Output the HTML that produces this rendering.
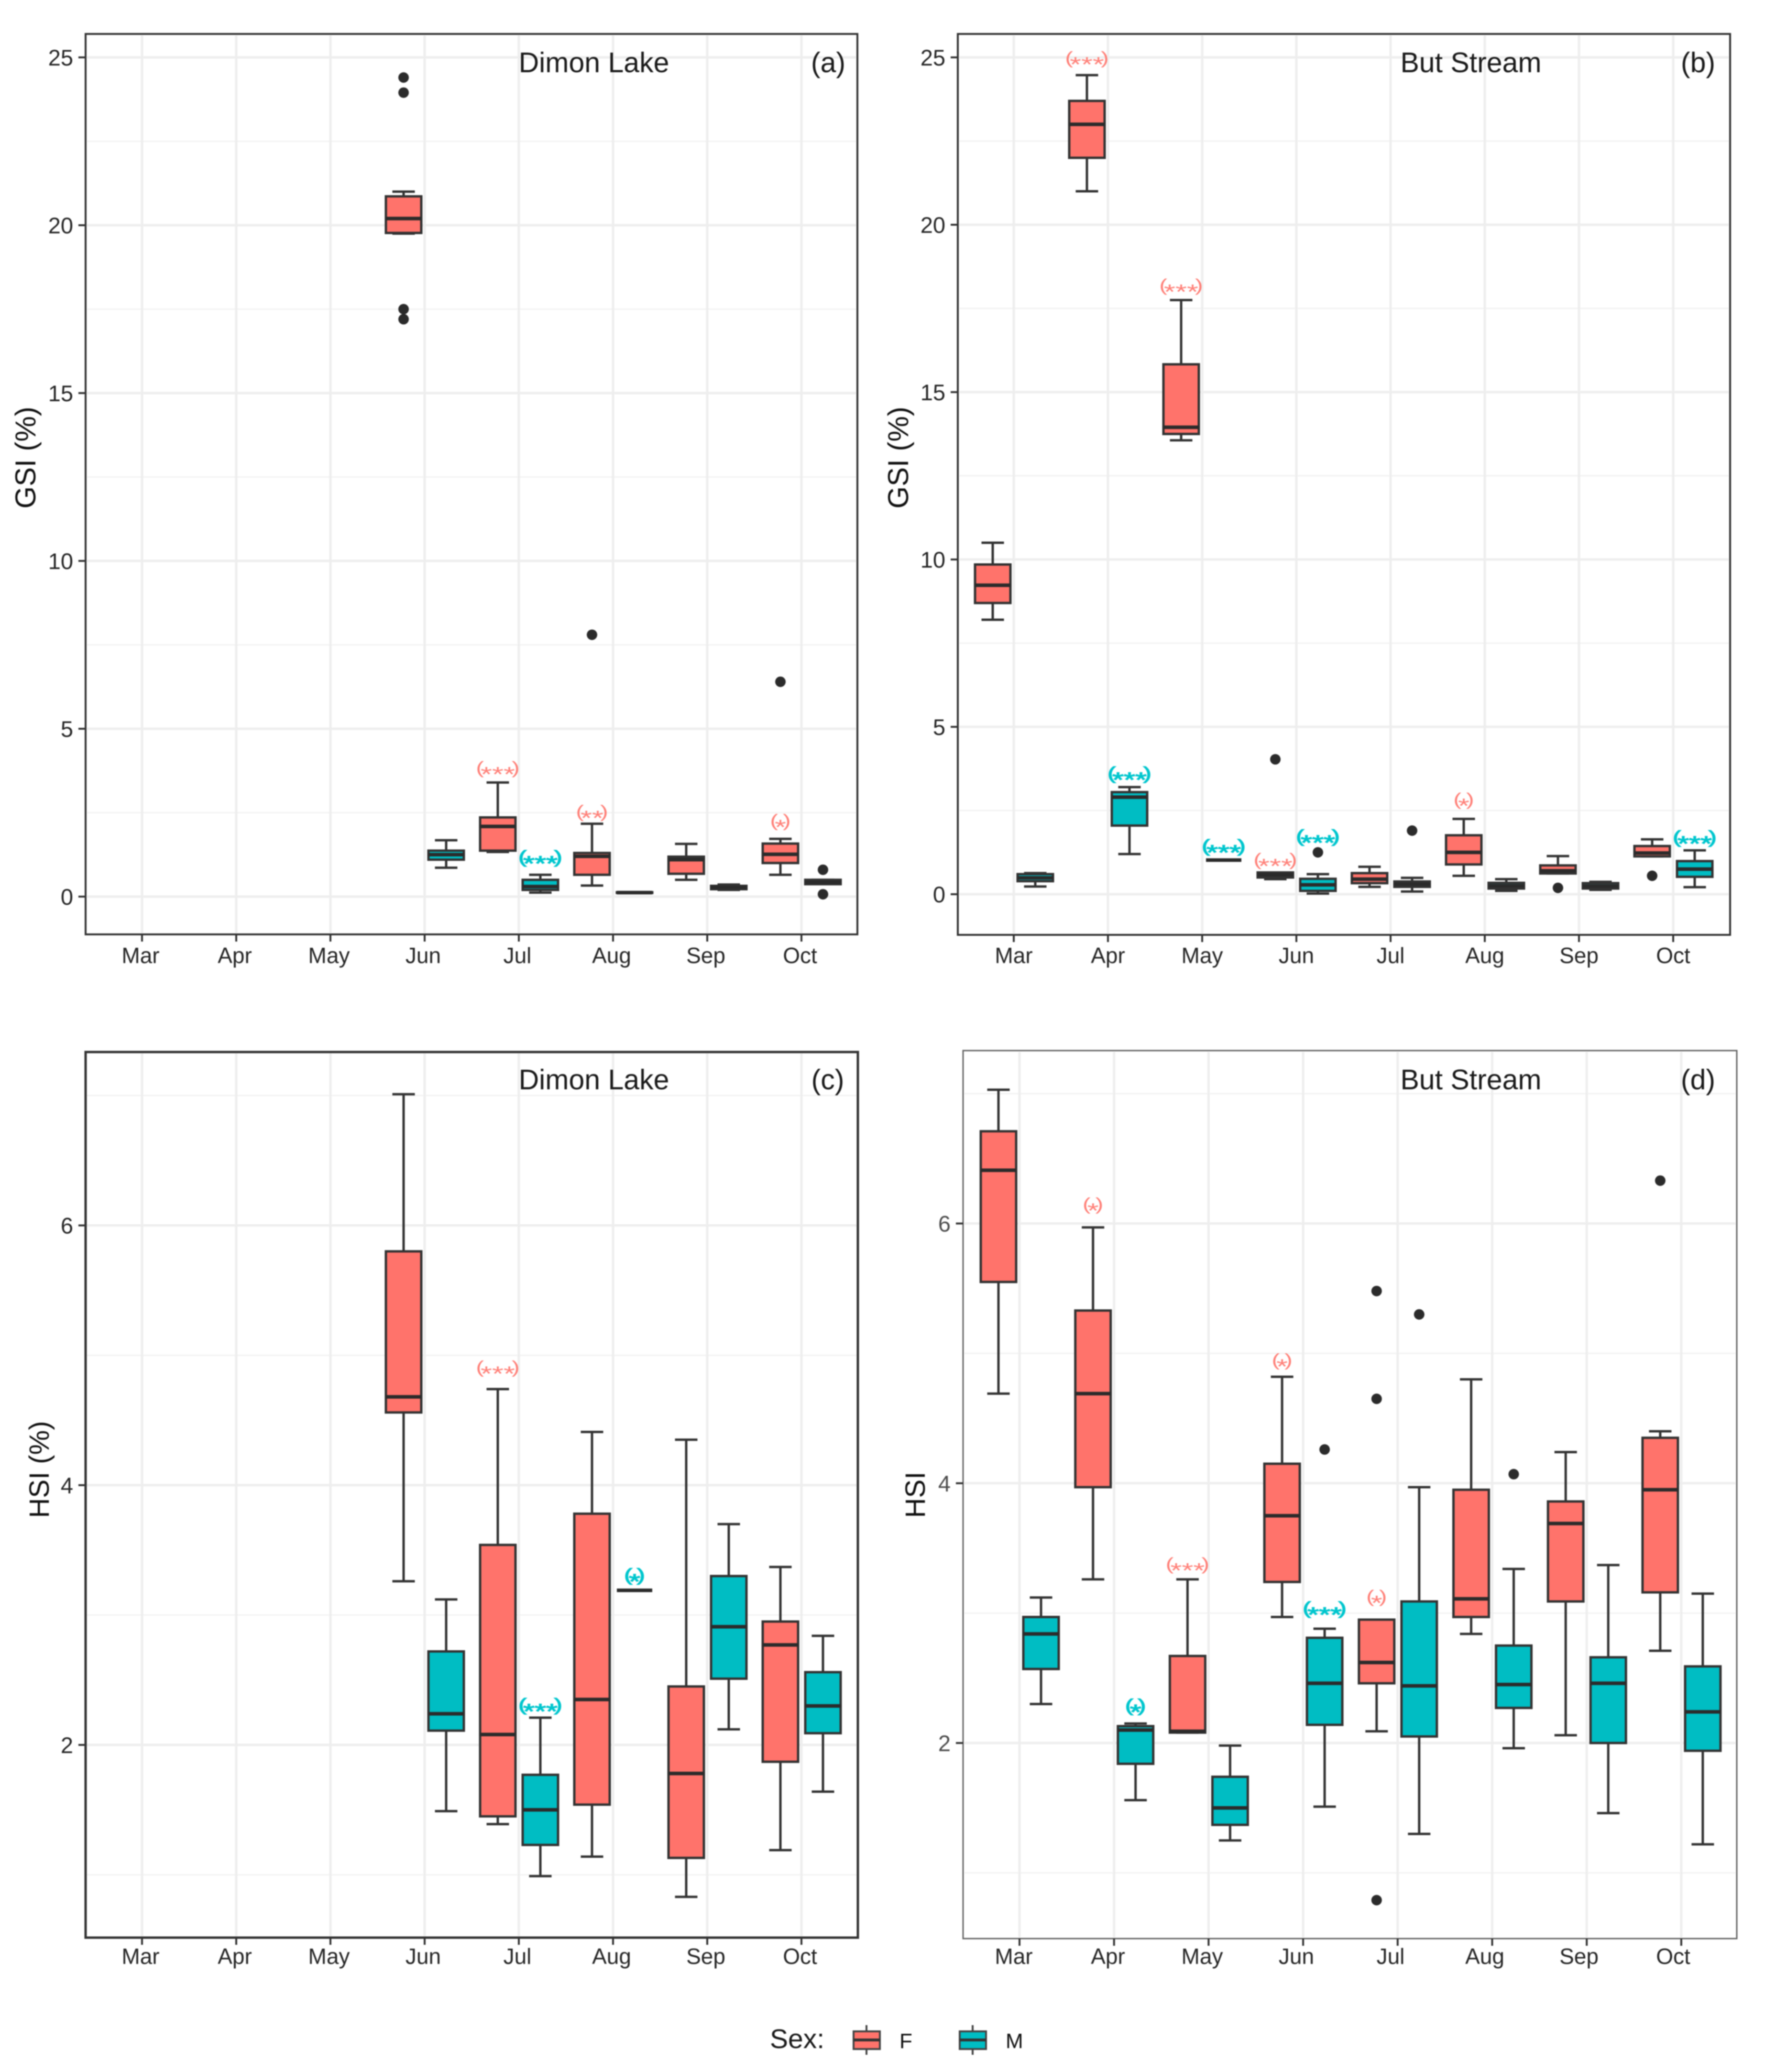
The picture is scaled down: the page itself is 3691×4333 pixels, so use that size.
<!DOCTYPE html>
<html lang="en">
<head>
<meta charset="utf-8">
<title>GSI and HSI by month and sex</title>
<style>
html,body{margin:0;padding:0;background:#fff}
svg{display:block;font-family:"Liberation Sans",Arial,sans-serif;filter:blur(1.2px)}
</style>
</head>
<body>
<svg id="figure" xmlns="http://www.w3.org/2000/svg" width="3691" height="4333" viewBox="0 0 3691 4333">
  <rect x="0" y="0" width="3691" height="4333" fill="#ffffff"/>
  <g id="panel-a"></g>
  <g id="panel-b"></g>
  <g id="panel-c"></g>
  <g id="panel-d"></g>

  <text x="1242" y="151" font-size="59" text-anchor="middle" fill="#1a1a1a">Dimon Lake</text>
  <text x="1732" y="151" font-size="59" text-anchor="middle" fill="#1a1a1a">(a)</text>
  <text x="3076" y="151" font-size="59" text-anchor="middle" fill="#1a1a1a">But Stream</text>
  <text x="3551" y="151" font-size="59" text-anchor="middle" fill="#1a1a1a">(b)</text>
  <text x="1242" y="2278" font-size="59" text-anchor="middle" fill="#1a1a1a">Dimon Lake</text>
  <text x="1731" y="2278" font-size="59" text-anchor="middle" fill="#1a1a1a">(c)</text>
  <text x="3076" y="2278" font-size="59" text-anchor="middle" fill="#1a1a1a">But Stream</text>
  <text x="3551" y="2278" font-size="59" text-anchor="middle" fill="#1a1a1a">(d)</text>

  <text transform="translate(74,957) rotate(-90)" font-size="60" text-anchor="middle" fill="#111111">GSI (%)</text>
  <text transform="translate(1899,957) rotate(-90)" font-size="60" text-anchor="middle" fill="#111111">GSI (%)</text>
  <text transform="translate(102,3073) rotate(-90)" font-size="58" text-anchor="middle" fill="#111111">HSI (%)</text>
  <text transform="translate(1934,3126) rotate(-90)" font-size="58" text-anchor="middle" fill="#111111">HSI</text>

  <g>
    <text x="1610" y="4283" font-size="57" fill="#1a1a1a">Sex:</text>
    <g>
      <line x1="1812" x2="1812" y1="4235" y2="4297" stroke="#444" stroke-width="4"/>
      <rect x="1785" y="4248" width="55" height="37" fill="#FF736B" stroke="#444" stroke-width="4"/>
      <line x1="1785" x2="1840" y1="4266" y2="4266" stroke="#333" stroke-width="6"/>
      <text x="1881" y="4283" font-size="44" fill="#111111">F</text>
    </g>
    <g>
      <line x1="2034" x2="2034" y1="4235" y2="4297" stroke="#444" stroke-width="4"/>
      <rect x="2007" y="4248" width="55" height="37" fill="#00BDC3" stroke="#444" stroke-width="4"/>
      <line x1="2007" x2="2062" y1="4266" y2="4266" stroke="#333" stroke-width="6"/>
      <text x="2103" y="4283" font-size="44" fill="#111111">M</text>
    </g>
  </g>
</svg>

<script>
// Shared axis data
const months = ["Mar","Apr","May","Jun","Jul","Aug","Sep","Oct"];
const sexes = ["F","M"];
const gsiMajorTicks = [0,5,10,15,20,25];
const gsiMinorTicks = [2.5,7.5,12.5,17.5,22.5];
const hsiMajorTicks = [2,4,6];
const hsiMinorTicks = [1,3,5,7];

// Every series has 16 slots: Mar F, Mar M, Apr F, Apr M ... Oct F, Oct M
// Panel (a) GSI, Dimon Lake
const aHigh   = [null,null,null,null,null,null,21.0,1.68,3.4,0.65,2.17,0.13,1.57,0.36,1.72,0.5];
const aQ3     = [null,null,null,null,null,null,20.86,1.37,2.36,0.5,1.3,0.13,1.19,0.32,1.58,0.5];
const aMedian = [null,null,null,null,null,null,20.2,1.25,2.09,0.3,1.2,0.12,1.1,0.28,1.26,0.43];
const aQ1     = [null,null,null,null,null,null,19.77,1.1,1.37,0.2,0.65,0.11,0.68,0.22,1.0,0.37];
const aLow    = [null,null,null,null,null,null,19.75,0.86,1.33,0.12,0.33,0.11,0.5,0.2,0.65,0.37];
const aOutlierGroups = [6,6,6,6,10,14,15,15];
const aOutlierValues = [24.4,23.95,17.5,17.2,7.8,6.4,0.8,0.07];
const aSigGroups = [8,9,10,14];
const aSigStars = ["***","***","**","*"];
const aSigValues = [3.8,1.15,2.5,2.23];

// Panel (b) GSI, But Stream
const bHigh   = [10.5,0.63,24.47,3.2,17.75,1.02,0.65,0.6,0.82,0.49,2.25,0.45,1.14,0.37,1.64,1.31];
const bQ3     = [9.85,0.6,23.7,3.05,15.83,1.02,0.65,0.46,0.63,0.38,1.76,0.34,0.86,0.33,1.44,0.99];
const bMedian = [9.23,0.49,23.0,2.9,13.95,1.02,0.58,0.28,0.45,0.3,1.25,0.25,0.7,0.24,1.23,0.75];
const bQ1     = [8.7,0.39,22.0,2.05,13.75,1.02,0.5,0.1,0.33,0.22,0.89,0.17,0.62,0.17,1.13,0.52];
const bLow    = [8.2,0.23,21.0,1.2,13.56,1.02,0.45,0.02,0.22,0.08,0.55,0.1,0.62,0.13,1.13,0.21];
const bOutlierGroups = [6,7,9,12,14];
const bOutlierValues = [4.03,1.25,1.9,0.19,0.55];
const bSigGroups = [2,3,4,5,6,7,10,15];
const bSigStars = ["***","***","***","***","***","***","*","***"];
const bSigValues = [24.95,3.58,18.16,1.41,1.0,1.7,2.8,1.67];

// Panel (c) HSI, Dimon Lake
const cHigh   = [null,null,null,null,null,null,7.01,3.12,4.74,2.21,4.41,3.19,4.35,3.7,3.37,2.84];
const cQ3     = [null,null,null,null,null,null,5.8,2.72,3.54,1.77,3.78,3.19,2.45,3.3,2.95,2.56];
const cMedian = [null,null,null,null,null,null,4.68,2.24,2.08,1.5,2.35,3.19,1.78,2.91,2.77,2.3];
const cQ1     = [null,null,null,null,null,null,4.56,2.11,1.45,1.23,1.54,3.19,1.13,2.51,1.87,2.09];
const cLow    = [null,null,null,null,null,null,3.26,1.49,1.39,0.99,1.14,3.19,0.83,2.12,1.19,1.64];
const cOutlierGroups = [];
const cOutlierValues = [];
const cSigGroups = [8,9,11];
const cSigStars = ["***","***","*"];
const cSigValues = [4.9,2.3,3.3];

// Panel (d) HSI, But Stream
const dHigh   = [7.03,3.12,5.97,2.15,3.26,1.98,4.82,2.88,2.95,3.97,4.8,3.34,4.24,3.37,4.4,3.15];
const dQ3     = [6.71,2.97,5.33,2.13,2.67,1.74,4.15,2.81,2.95,3.09,3.95,2.75,3.86,2.66,4.35,2.59];
const dMedian = [6.41,2.84,4.69,2.1,2.09,1.5,3.75,2.46,2.62,2.44,3.11,2.45,3.69,2.46,3.95,2.24];
const dQ1     = [5.55,2.57,3.97,1.84,2.08,1.37,3.24,2.14,2.46,2.05,2.97,2.27,3.09,2.0,3.16,1.94];
const dLow    = [4.69,2.3,3.26,1.56,2.08,1.25,2.97,1.51,2.09,1.3,2.84,1.96,2.06,1.46,2.71,1.22];
const dOutlierGroups = [7,8,8,8,9,11,14];
const dOutlierValues = [4.26,5.48,4.65,0.79,5.3,4.07,6.33];
const dSigGroups = [2,3,4,6,7,8];
const dSigStars = ["*","*","***","*","***","*"];
const dSigValues = [6.14,2.28,3.37,4.94,3.03,3.12];

const SVG_NS = "http://www.w3.org/2000/svg";
const FILLS = {F:"#FF736B", M:"#00BDC3"};
const SIG_COLORS = {F:"#FF8078", M:"#00C6CE"};
const INK = "#333333";

function make(parent, tag, attrs, text) {
  const el = document.createElementNS(SVG_NS, tag);
  for (const k in attrs) el.setAttribute(k, attrs[k]);
  if (text !== undefined) el.textContent = text;
  parent.appendChild(el);
  return el;
}

function drawPanel(cfg) {
  const root = document.getElementById(cfg.id);
  const xTick = i => cfg.xStart + cfg.xStep * i;
  const xLabel = i => cfg.labelStart + 197 * i;
  const yScale = v => cfg.yZero - cfg.yUnit * v;
  const groupX = g => xTick(Math.floor(g / 2)) + (g % 2 ? 45 : -44);
  let el;

  cfg.minorTicks.forEach(v => {
    el = make(root, "line", {x1:cfg.left+3, x2:cfg.right-3, y1:yScale(v), y2:yScale(v), stroke:"#f3f3f3", "stroke-width":3});
    
    
  });
  cfg.majorTicks.forEach(v => {
    el = make(root, "line", {x1:cfg.left+3, x2:cfg.right-3, y1:yScale(v), y2:yScale(v), stroke:"#eeeeee", "stroke-width":5});
    
    
  });
  months.forEach((m, i) => {
    el = make(root, "line", {x1:xTick(i), x2:xTick(i), y1:cfg.top+3, y2:cfg.bottom-3, stroke:"#eeeeee", "stroke-width":5});
    
    
  });

  cfg.high.forEach((hi, g) => {
    if (hi === null) return;
    const sex = sexes[g % 2];
    const cx = groupX(g);
    const box = make(root, "g", {});
    
    
    const top = yScale(cfg.q3[g]), bot = yScale(cfg.q1[g]);

    el = make(box, "line", {x1:cx, x2:cx, y1:yScale(hi), y2:top, stroke:INK, "stroke-width":5});
    
    
    el = make(box, "line", {x1:cx, x2:cx, y1:bot, y2:yScale(cfg.low[g]), stroke:INK, "stroke-width":5});
    
    
    el = make(box, "line", {x1:cx-23.5, x2:cx+23.5, y1:yScale(hi), y2:yScale(hi), stroke:INK, "stroke-width":5});
    
    
    el = make(box, "line", {x1:cx-23.5, x2:cx+23.5, y1:yScale(cfg.low[g]), y2:yScale(cfg.low[g]), stroke:INK, "stroke-width":5});
    
    
    el = make(box, "path", {d:"M"+(cx-37)+" "+top+"H"+(cx+37)+"V"+bot+"H"+(cx-37)+"Z", fill:FILLS[sex], stroke:INK, "stroke-width":5});
    
    
    el = make(box, "line", {x1:cx-37, x2:cx+37, y1:yScale(cfg.median[g]), y2:yScale(cfg.median[g]), stroke:"#2b2b2b", "stroke-width":7.5});
    
    
  });

  cfg.outlierGroups.forEach((g, i) => {
    el = make(root, "circle", {cx:groupX(g), cy:yScale(cfg.outlierValues[i]), r:11, fill:"#2b2b2b"});
    
    
  });

  cfg.sigGroups.forEach((g, i) => {
    const sex = sexes[g % 2];
    const attrs = {
      transform:"translate("+groupX(g)+","+(yScale(cfg.sigValues[i])+10)+") scale(1.4,1)",
      "font-size":36, "text-anchor":"middle", fill:SIG_COLORS[sex]
    };
    if (sex === "M") { attrs.stroke = SIG_COLORS[sex]; attrs["stroke-width"] = 1.4; }
    el = make(root, "text", attrs);
    
    
    make(el, "tspan", {}, "(");
    make(el, "tspan", {"font-size":44, dx:-5, dy:16}, cfg.sigStars[i]);
    make(el, "tspan", {dx:-5, dy:-16}, ")");
  });

  el = make(root, "rect", {x:cfg.left, y:cfg.top, width:cfg.right-cfg.left, height:cfg.bottom-cfg.top, fill:"none", stroke:cfg.frameColor, "stroke-width":cfg.frameWidth});
  
  

  months.forEach((m, i) => {
    el = make(root, "line", {x1:xTick(i), x2:xTick(i), y1:cfg.bottom, y2:cfg.bottom+15, stroke:INK, "stroke-width":4});
    
    
    el = make(root, "text", {x:xLabel(i), y:cfg.labelY, "font-size":46, "text-anchor":"middle", fill:"#262626"}, m);
    
    
  });
  cfg.majorTicks.forEach(v => {
    el = make(root, "line", {x1:cfg.left-15, x2:cfg.left, y1:yScale(v), y2:yScale(v), stroke:INK, "stroke-width":4});
    
    
    el = make(root, "text", {x:cfg.left-26, y:yScale(v)+17, "font-size":47, "text-anchor":"end", fill:cfg.yLabelColor}, String(v));
    
    
  });
}

drawPanel({id:"panel-a", left:179, right:1793, top:71, bottom:1954, xStart:297, xStep:197, yZero:1875, yUnit:70.2,
  labelStart:294, labelY:2014, frameColor:"#333333", frameWidth:4, yLabelColor:"#262626",
  majorTicks:gsiMajorTicks, minorTicks:gsiMinorTicks,
  high:aHigh, q3:aQ3, median:aMedian, q1:aQ1, low:aLow,
  outlierGroups:aOutlierGroups, outlierValues:aOutlierValues,
  sigGroups:aSigGroups, sigStars:aSigStars, sigValues:aSigValues});

drawPanel({id:"panel-b", left:2003, right:3618, top:71, bottom:1955, xStart:2120, xStep:197, yZero:1870, yUnit:70,
  labelStart:2120, labelY:2014, frameColor:"#333333", frameWidth:4, yLabelColor:"#262626",
  majorTicks:gsiMajorTicks, minorTicks:gsiMinorTicks,
  high:bHigh, q3:bQ3, median:bMedian, q1:bQ1, low:bLow,
  outlierGroups:bOutlierGroups, outlierValues:bOutlierValues,
  sigGroups:bSigGroups, sigStars:bSigStars, sigValues:bSigValues});

drawPanel({id:"panel-c", left:179, right:1794, top:2200, bottom:4052, xStart:297, xStep:197, yZero:4192.2, yUnit:271.6,
  labelStart:294, labelY:4107, frameColor:"#333333", frameWidth:5, yLabelColor:"#262626",
  majorTicks:hsiMajorTicks, minorTicks:hsiMinorTicks,
  high:cHigh, q3:cQ3, median:cMedian, q1:cQ1, low:cLow,
  outlierGroups:cOutlierGroups, outlierValues:cOutlierValues,
  sigGroups:cSigGroups, sigStars:cSigStars, sigValues:cSigValues});

drawPanel({id:"panel-d", left:2014, right:3632, top:2197, bottom:4054, xStart:2132, xStep:197.7, yZero:4188.2, yUnit:271.6,
  labelStart:2120, labelY:4107, frameColor:"#666666", frameWidth:3, yLabelColor:"#4d4d4d",
  majorTicks:hsiMajorTicks, minorTicks:hsiMinorTicks,
  high:dHigh, q3:dQ3, median:dMedian, q1:dQ1, low:dLow,
  outlierGroups:dOutlierGroups, outlierValues:dOutlierValues,
  sigGroups:dSigGroups, sigStars:dSigStars, sigValues:dSigValues});
</script>
</body>
</html>
